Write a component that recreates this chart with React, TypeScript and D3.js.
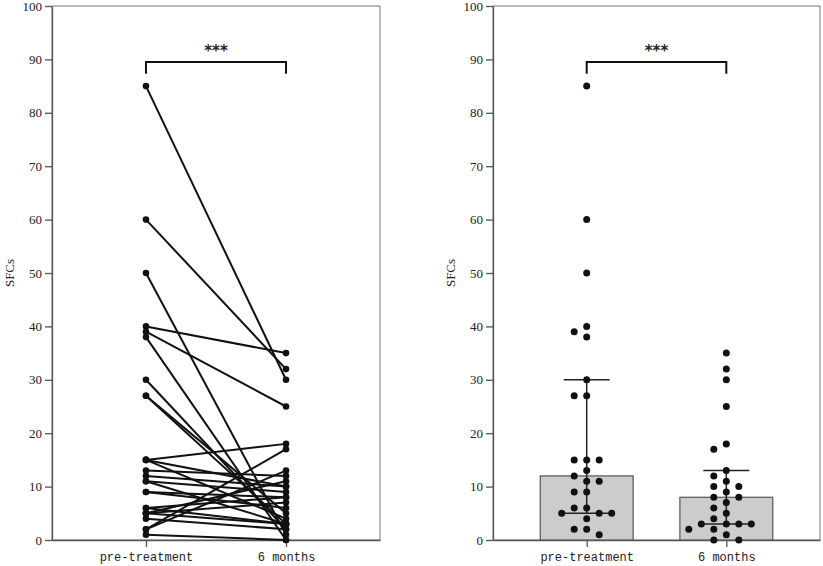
import React, { useEffect, useRef } from "react";
import * as d3 from "d3";

// paired SFC counts, same index = same subject
const groups = ["pre-treatment", "6 months"];
const preValues = [85, 60, 50, 40, 39, 38, 30, 27, 27, 15, 15, 15, 13, 12, 11, 11, 9, 9, 6, 6, 5, 5, 5, 4, 2, 2, 1];
const postValues = [30, 32, 1, 35, 25, 0, 2, 3, 5, 18, 10, 4, 12, 10, 9, 3, 8, 6, 8, 3, 11, 7, 3, 2, 17, 13, 0];
const yTicks = [0, 10, 20, 30, 40, 50, 60, 70, 80, 90, 100];
const yLabel = "SFCs";
const sigLabel = "***";

const W = 823;
const H = 566;
const top = 6;
const bottom = 540;
const panels = [
  { left: 52, right: 380 },
  { left: 493, right: 820 },
];

// quantile the way Prism does it ((n+1)p)
function quantileP(values: number[], p: number) {
  const s = values.slice().sort((a, b) => a - b);
  const h = (s.length + 1) * p - 1;
  const lo = Math.max(0, Math.floor(h));
  const hi = Math.min(s.length - 1, lo + 1);
  return s[lo] + (h - lo) * (s[hi] - s[lo]);
}

// simple greedy swarm: offsets in px from the group centre
function swarm(values: number[], y: (v: number) => number, step: number) {
  const placed: { py: number; dx: number }[] = [];
  const order = values.map((v, i) => ({ v, i })).sort((a, b) => b.v - a.v);
  const out: number[] = new Array(values.length).fill(0);
  order.forEach(({ v, i }) => {
    const py = y(v);
    for (let k = 0; k < 20; k++) {
      const m = Math.ceil(k / 2) * (k % 2 === 1 ? -1 : 1);
      const dx = m * step;
      const hit = placed.some((p) => Math.abs(p.py - py) < 8 && Math.abs(p.dx - dx) < step * 0.9);
      if (!hit) {
        placed.push({ py, dx });
        out[i] = dx;
        break;
      }
    }
  });
  return out;
}

const App: React.FC = () => {
  const ref = useRef<SVGSVGElement>(null);

  useEffect(() => {
    const svg = d3.select(ref.current);
    svg.selectAll("*").remove();

    const y = d3.scaleLinear().domain([0, 100]).range([bottom, top]);
    const axisColor = "#555";

    panels.forEach((pn, pi) => {
      const x = d3.scalePoint<string>().domain(groups).range([pn.left, pn.right]).padding(0.671);
      const g = svg.append("g");

      // frame
      g.append("rect")
        .attr("x", pn.left)
        .attr("y", top)
        .attr("width", pn.right - pn.left)
        .attr("height", bottom - top)
        .attr("fill", "none")
        .attr("stroke", "#777")
        .attr("stroke-width", 1);

      // y axis
      const ya = g.append("g").attr("transform", `translate(${pn.left},0)`).call(
        d3.axisLeft(y).tickValues(yTicks).tickSize(7).tickPadding(3).tickSizeOuter(0)
      );
      ya.select(".domain").attr("stroke", axisColor).attr("stroke-width", 1.3);
      ya.selectAll(".tick line").attr("stroke", axisColor).attr("stroke-width", 1.3);
      ya.selectAll(".tick text")
        .attr("font-family", "'Liberation Serif', serif")
        .attr("font-size", 13)
        .attr("fill", "#222");

      // x axis
      const xa = g.append("g").attr("transform", `translate(0,${bottom})`).call(
        d3.axisBottom(x).tickSize(7).tickPadding(5).tickSizeOuter(0)
      );
      xa.select(".domain").attr("stroke", axisColor).attr("stroke-width", 1.3);
      xa.selectAll(".tick line").attr("stroke", axisColor).attr("stroke-width", 1.3);
      xa.selectAll(".tick text")
        .attr("font-family", "'Liberation Mono', monospace")
        .attr("font-size", 12)
        .attr("fill", "#222");

      g.append("text")
        .attr("transform", `translate(${pn.left - 38},${(top + bottom) / 2}) rotate(-90)`)
        .attr("text-anchor", "middle")
        .attr("font-family", "'Liberation Serif', serif")
        .attr("font-size", 13)
        .attr("fill", "#222")
        .text(yLabel);

      // significance bracket
      const bx0 = x(groups[0])!;
      const bx1 = x(groups[1])!;
      g.append("path")
        .attr("d", `M${bx0},${y(87.3)} V${y(89.5)} H${bx1} V${y(87.3)}`)
        .attr("fill", "none")
        .attr("stroke", "#111")
        .attr("stroke-width", 2);
      g.append("text")
        .attr("x", (bx0 + bx1) / 2)
        .attr("y", y(89.5) - 6)
        .attr("text-anchor", "middle")
        .attr("font-family", "'DejaVu Sans', sans-serif")
        .attr("font-size", 15)
        .attr("font-weight", "bold")
        .attr("fill", "#222")
        .text(sigLabel);

      if (pi === 0) {
        // paired lines
        const pairs = preValues.map((v, i) => [v, postValues[i]]);
        g.selectAll("line.pair")
          .data(pairs)
          .enter()
          .append("line")
          .attr("x1", bx0)
          .attr("x2", bx1)
          .attr("y1", (d) => y(d[0]))
          .attr("y2", (d) => y(d[1]))
          .attr("stroke", "#111")
          .attr("stroke-width", 2);
        [preValues, postValues].forEach((vals, gi) => {
          g.selectAll(null)
            .data(vals)
            .enter()
            .append("circle")
            .attr("cx", x(groups[gi])!)
            .attr("cy", (d) => y(d))
            .attr("r", 3.3)
            .attr("fill", "#111");
        });
      } else {
        const bw = x.step() * 0.665;
        [preValues, postValues].forEach((vals, gi) => {
          const cx = x(groups[gi])!;
          const med = quantileP(vals, 0.5);
          const q1 = quantileP(vals, 0.25);
          const q3 = quantileP(vals, 0.75);
          g.append("rect")
            .attr("x", cx - bw / 2)
            .attr("y", y(med))
            .attr("width", bw)
            .attr("height", y(0) - y(med))
            .attr("fill", "#cccccc")
            .attr("stroke", "#555")
            .attr("stroke-width", 1.2);
          const cap = 23;
          const eb = g.append("g").attr("stroke", "#222").attr("stroke-width", 1.5);
          eb.append("line").attr("x1", cx).attr("x2", cx).attr("y1", y(q1)).attr("y2", y(q3));
          eb.append("line").attr("x1", cx - cap).attr("x2", cx + cap).attr("y1", y(q1)).attr("y2", y(q1));
          eb.append("line").attr("x1", cx - cap).attr("x2", cx + cap).attr("y1", y(q3)).attr("y2", y(q3));
          const offs = swarm(vals, y, 12.5);
          g.selectAll(null)
            .data(vals)
            .enter()
            .append("circle")
            .attr("cx", (_, i) => cx + offs[i])
            .attr("cy", (d) => y(d))
            .attr("r", 3.5)
            .attr("fill", "#111");
        });
      }
    });
  }, []);

  return (
    <svg
      ref={ref}
      width={W}
      height={H}
      style={{ position: "absolute", left: 0, top: 0, background: "#fff" }}
    />
  );
};

export default App;
